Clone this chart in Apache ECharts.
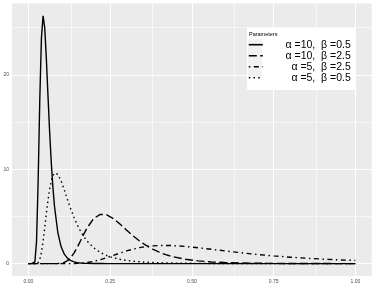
<!DOCTYPE html>
<html><head><meta charset="utf-8">
<script src="https://cdn.jsdelivr.net/npm/echarts@6/dist/echarts.min.js"></script>
<style>html,body{margin:0;padding:0;background:#fff}#c{width:374px;height:286px}</style>
</head><body><div id="c"></div>
<script>
const xs = [0, 0.01, 0.015, 0.02, 0.025, 0.03, 0.035, 0.04, 0.045, 0.05, 0.055, 0.06, 0.065, 0.07, 0.075, 0.08, 0.09, 0.10, 0.11, 0.12, 0.13, 0.14, 0.15, 0.16, 0.17, 0.18, 0.20, 0.22, 0.24, 0.26, 0.28, 0.30, 0.32, 0.34, 0.36, 0.38, 0.40, 0.42, 0.44, 0.48, 0.52, 0.56, 0.60, 0.65, 0.70, 0.75, 0.80, 0.85, 0.90, 0.95, 1.00];
const a10b05 = [0, 0, 0.001, 0.18, 2.33, 8.78, 17.42, 23.91, 26.25, 25.02, 21.77, 17.83, 14.03, 10.76, 8.11, 6.05, 3.32, 1.81, 1.00, 0.56, 0.32, 0.19, 0.11, 0.067, 0.042, 0.026, 0.011, 0.005, 0.002, 0.001, 0.0005, 0.0003, 0, 0, 0, 0, 0, 0, 0, 0, 0, 0, 0, 0, 0, 0, 0, 0, 0, 0, 0];
const a10b25 = [0, 0, 0, 0, 0, 0, 0, 0, 0, 0, 0, 0, 0, 0, 0.0002, 0.0008, 0.0072, 0.0365, 0.124, 0.317, 0.652, 1.14, 1.755, 2.446, 3.148, 3.80, 4.782, 5.222, 5.169, 4.775, 4.20, 3.566, 2.952, 2.399, 1.925, 1.531, 1.21, 0.952, 0.748, 0.461, 0.2855, 0.178, 0.1123, 0.0641, 0.0374, 0.0222, 0.0134, 0.0083, 0.0052, 0.0033, 0.0022];
const a5b25 = [0, 0, 0, 0, 0, 0, 0, 0, 0, 0, 0, 0, 0, 0, 0, 0, 0, 0.0001, 0.0003, 0.0012, 0.0038, 0.0095, 0.0206, 0.0397, 0.0692, 0.111, 0.237, 0.417, 0.637, 0.878, 1.119, 1.342, 1.533, 1.688, 1.802, 1.878, 1.918, 1.927, 1.911, 1.82, 1.681, 1.519, 1.352, 1.152, 0.972, 0.816, 0.682, 0.57, 0.476, 0.398, 0.334];
const a5b05 = [0, 0, 0, 0.0003, 0.011, 0.103, 0.443, 1.185, 2.343, 3.783, 5.30, 6.71, 7.88, 8.75, 9.31, 9.59, 9.47, 8.77, 7.80, 6.76, 5.76, 4.862, 4.078, 3.41, 2.849, 2.38, 1.67, 1.183, 0.848, 0.616, 0.453, 0.337, 0.254, 0.194, 0.149, 0.116, 0.091, 0.072, 0.058, 0.038, 0.025, 0.017, 0.012, 0.008, 0.005, 0.004, 0.003, 0.002, 0.0014, 0.001, 0.0008];
const seriesNames = ['α =10,  β =0.5', 'α =10,  β =2.5', 'α =5,  β =2.5', 'α =5,  β =0.5'];
const legendTitle = 'Parameters';
const xTicks = [0, 0.25, 0.5, 0.75, 1];
const xTickLabels = ['0.00', '0.25', '0.50', '0.75', '1.00'];
const xMinor = [0.125, 0.375, 0.625, 0.875];
const yTicks = [0, 10, 20];
const yTickLabels = ['0', '10', '20'];
const yMinor = [5, 15, 25];

const seriesValues = [a10b05, a10b25, a5b25, a5b05];
const dashes = ['solid', [8, 3.5], [1.5, 3.5, 5, 3.5], [1.5, 3.2]];
const pairs = v => xs.map((x, i) => [x, v[i]]);

const gridLines = [];
xTicks.forEach(v => gridLines.push({xAxis: v, lineStyle: {width: 1.1}}));
xMinor.forEach(v => gridLines.push({xAxis: v, lineStyle: {width: 0.55}}));
yTicks.forEach(v => gridLines.push({yAxis: v, lineStyle: {width: 1.1}}));
yMinor.forEach(v => gridLines.push({yAxis: v, lineStyle: {width: 0.55}}));

const series = [{
  type: 'line', data: [], silent: true, z: 1,
  markLine: {silent: true, symbol: 'none', z: 1, animation: false,
    label: {show: false}, lineStyle: {color: '#ffffff', type: 'solid'}, data: gridLines}
}];
seriesValues.forEach((v, i) => series.push({
  name: seriesNames[i], type: 'line', data: pairs(v), symbol: 'none', showSymbol: false,
  z: 2, lineStyle: {color: '#000', width: 1.4, type: dashes[i], cap: 'butt'},
  itemStyle: {color: '#000'}
}));

const chart = echarts.init(document.getElementById('c'), null, {renderer: 'canvas'});
chart.setOption({
  animation: false,
  backgroundColor: '#ffffff',
  grid: {left: 12, right: 2.3, top: 3.5, bottom: 10, show: true, backgroundColor: '#EBEBEB', borderWidth: 0, outerBoundsMode: 'none', containLabel: false},
  xAxis: {type: 'value', min: -0.05, max: 1.05,
    axisLine: {show: false}, splitLine: {show: false},
    axisTick: {show: true, length: 2.2, customValues: xTicks, lineStyle: {color: '#333', width: 0.8}},
    axisLabel: {customValues: xTicks, formatter: v => xTickLabels[xTicks.indexOf(v)] ?? v.toFixed(2), fontSize: 5, color: '#4d4d4d', margin: 3, fontFamily: 'Liberation Sans'}},
  yAxis: {type: 'value', min: -1.3125, max: 27.5625,
    axisLine: {show: false}, splitLine: {show: false},
    axisTick: {show: true, length: 2.2, customValues: yTicks, lineStyle: {color: '#333', width: 0.8}},
    axisLabel: {customValues: yTicks, formatter: v => yTickLabels[yTicks.indexOf(v)] ?? String(v), fontSize: 5, color: '#4d4d4d', margin: 3, fontFamily: 'Liberation Sans'}},
  legend: {
    orient: 'vertical', left: 248, top: 39.2, padding: 0, itemGap: 0,
    itemWidth: 14, itemHeight: 9.7, z: 5,
    data: seriesNames,
    itemStyle: {opacity: 0, color: 'transparent', borderWidth: 0},
    lineStyle: {width: 1.6},
    formatter: n => '{t|' + n + '}',
    textStyle: {rich: {t: {width: 83, align: 'right', fontSize: 10.5, lineHeight: 9.7, color: '#000', fontFamily: 'Liberation Sans'}}}
  },
  graphic: [
    {type: 'rect', shape: {x: 247, y: 28, width: 108, height: 62}, style: {fill: '#fff'}, z: 3, silent: true},
    {type: 'rect', shape: {x: 248, y: 39.4, width: 14, height: 38.4}, style: {fill: '#F2F2F2'}, z: 3.5, silent: true},
    {type: 'text', left: 249, top: 31.5, style: {text: legendTitle, fontSize: 5.5, fill: '#000', fontFamily: 'Liberation Sans'}, z: 4, silent: true}
  ],
  series: series
});
</script></body></html>
